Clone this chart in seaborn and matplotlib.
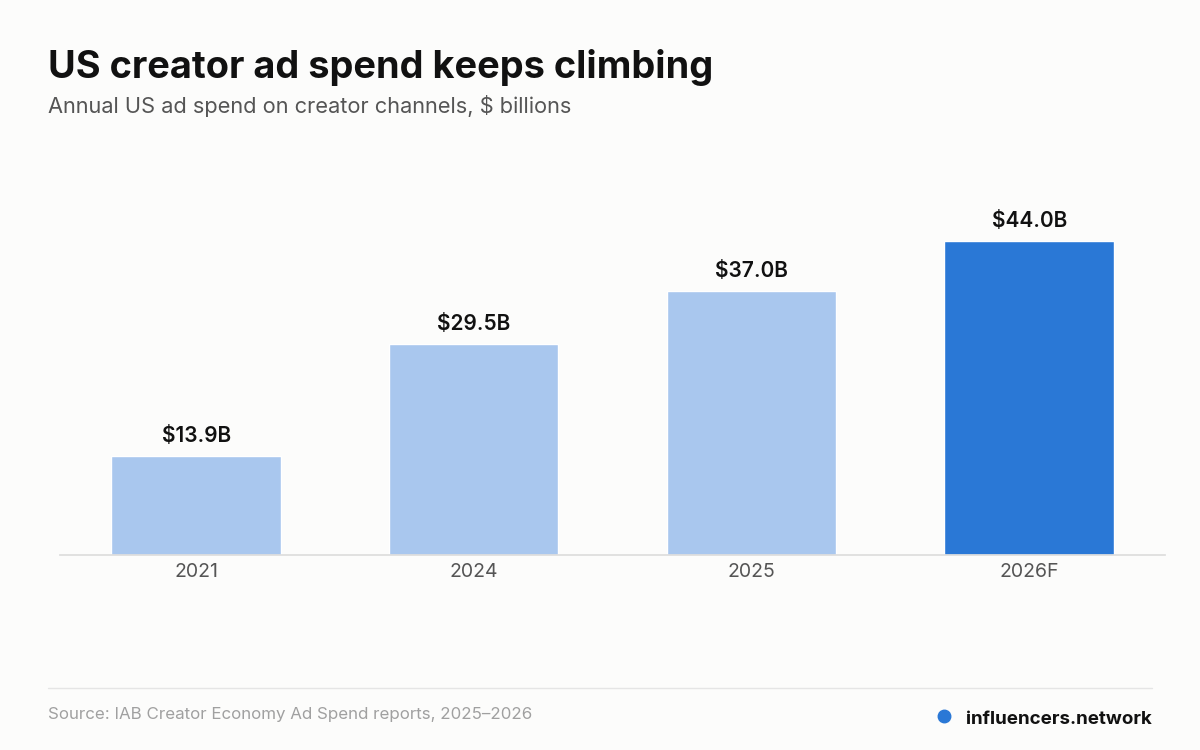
import matplotlib
matplotlib.use("Agg")
import matplotlib.pyplot as plt
import seaborn as sns
import pandas as pd

years = ["2021", "2024", "2025", "2026F"]
spend = [13.9, 29.5, 37.0, 44.0]
labels = ["$13.9B", "$29.5B", "$37.0B", "$44.0B"]
colors = ["#A9C7EE", "#A9C7EE", "#A9C7EE", "#2A78D6"]

sns.set_theme(style="white")
plt.rcParams['font.family'] = ['Inter', 'DejaVu Sans']

df = pd.DataFrame({"year": years, "spend": spend})

fig = plt.figure(figsize=(12, 7.5), dpi=100, facecolor="#FCFCFB")
ax = fig.add_axes([0.05, 0.26, 0.921, 0.54], facecolor="#FCFCFB")
sns.barplot(data=df, x="year", y="spend", hue="year", palette=colors,
            width=0.61, legend=False, ax=ax, saturation=1)
for i, (v, t) in enumerate(zip(spend, labels)):
    ax.text(i, v + 1.4, t, ha="center", va="bottom", fontsize=15,
            fontweight="semibold", color="#111111")

ax.set_xlim(-0.49, 3.49)
ax.set_ylim(0, 56.7)
ax.set_yticks([])
ax.set_xlabel("")
ax.set_ylabel("")
for s in ["top", "right", "left"]:
    ax.spines[s].set_visible(False)
ax.spines["bottom"].set_color("#DDDDDD")
ax.tick_params(axis="x", labelsize=14, colors="#555555", length=0, pad=6)

fig.text(0.04, 0.896, "US creator ad spend keeps climbing", fontsize=27.3,
         fontweight="bold", color="#111111")
fig.text(0.04, 0.849, "Annual US ad spend on creator channels, $ billions",
         fontsize=15.7, color="#555555")
fig.add_artist(plt.Line2D([0.04, 0.96], [0.083, 0.083], color="#E5E5E5", lw=1))
fig.text(0.04, 0.042, "Source: IAB Creator Economy Ad Spend reports, 2025\u20132026",
         fontsize=12.2, color="#A0A0A0")
fig.text(0.96, 0.035, "influencers.network", fontsize=13.5, fontweight="bold",
         color="#111111", ha="right")
fig.add_artist(plt.Line2D([0.787], [0.046], marker="o", markersize=9,
                          color="#2A78D6", lw=0))

fig.savefig("out.png", dpi=100, facecolor=fig.get_facecolor())
